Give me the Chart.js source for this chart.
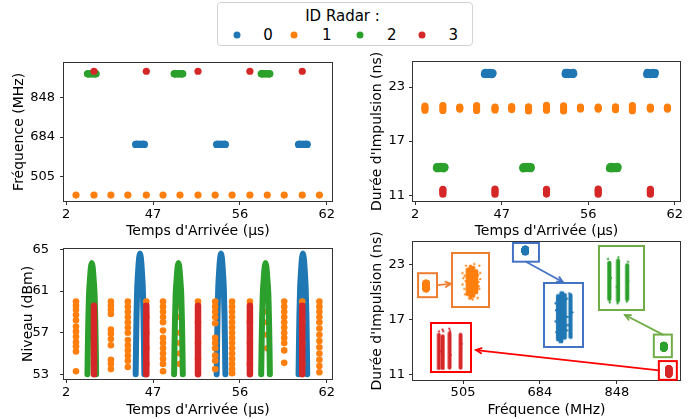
<!DOCTYPE html>
<html><head><meta charset="utf-8">
<script src="https://cdn.jsdelivr.net/npm/chart.js@4.4.1/dist/chart.umd.min.js"></script>
<style>
html,body{margin:0;padding:0;background:#fff;}
#wrap{position:relative;width:699px;height:419px;overflow:hidden;font-family:'DejaVu Sans',sans-serif;}
#wrap canvas{position:absolute;}
#legend{position:absolute;left:217px;top:2px;width:254px;height:42px;border:1px solid #d3d3d3;border-radius:4px;background:rgba(255,255,255,0.85);z-index:5;}
#legend .t,#legend .l{position:absolute;transform:translate(-50%,-50%);line-height:1;font-size:15px;color:#000;white-space:nowrap;}
#legend .d{position:absolute;width:7px;height:7px;border-radius:50%;transform:translate(-50%,-50%);}
</style></head>
<body><div id="wrap">
<canvas id="tl" width="340" height="190" style="left:0;top:50px"></canvas>
<canvas id="tr" width="339" height="190" style="left:360px;top:50px"></canvas>
<canvas id="bl" width="340" height="189" style="left:0;top:230px"></canvas>
<canvas id="br" width="339" height="189" style="left:360px;top:230px"></canvas>
<div id="legend"><div class="t" style="left:124.5px;top:12.7px">ID Radar :</div></div>
</div>
<script>
// ---------------- axis ticks ----------------
const TIME_TICKS = [0, 20, 40, 60];
const TIME_TICK_LABELS = ['2', '47', '56', '62'];
const FREQ_TICKS = [0, 1, 2];
const FREQ_TICK_LABELS = ['505', '684', '848'];
const DURATION_TICKS = [11, 17, 23];
const LEVEL_TICKS = [53, 57, 61, 65];

const RADAR_IDS = ['0', '1', '2', '3'];
const RADAR_COLORS = ['#1f77b4', '#ff7f0e', '#2ca02c', '#d62728'];

// ---------------- radar 0 (blue) : 3 bursts ----------------
const R0_FREQ = 0.81;
const R0_TIMES = [
  [16.0,16.1,16.2,16.35,16.55,16.8,17.0,17.2,17.45,17.65,17.8,17.9,18.0],
  [34.65,34.75,34.85,35.0,35.2,35.45,35.65,35.85,36.1,36.3,36.45,36.55,36.65],
  [53.5,53.6,53.7,53.85,54.05,54.3,54.5,54.7,54.95,55.15,55.3,55.4,55.5]
];
const R0_LEVELS = [
  [53.0,56.1,58.7,61.2,62.8,64.2,64.6,64.2,62.8,61.2,58.7,56.1,53.0],
  [53.0,56.1,58.7,61.2,62.8,64.2,64.6,64.2,62.8,61.2,58.7,56.1,53.0],
  [53.0,56.1,58.7,61.2,62.8,64.2,64.6,64.2,62.8,61.2,58.7,56.1,53.0]
];
const R0_DURATIONS = [
  [24.42,24.6,24.38,24.62,24.45,24.58,24.4,24.63,24.5,24.37,24.6,24.45,24.55],
  [24.45,24.62,24.4,24.55,24.63,24.38,24.52,24.6,24.42,24.58,24.4,24.62,24.48],
  [24.4,24.58,24.62,24.43,24.55,24.37,24.6,24.47,24.63,24.42,24.56,24.4,24.6]
];

// ---------------- radar 1 (orange) : 15 pulse groups ----------------
const R1_FREQ = -0.48;
const R1_TIMES = [2.26,6.4,10.3,14.2,18.45,22.3,26.2,30.35,34.3,38.2,42.3,46.3,50.2,54.35,58.3];
const R1_LEVELS = [
  [60.0,59.6,59.2,58.7,58.2,57.6,57.1,56.6,56.1,55.7,55.2,53.3],
  [60.0,59.2,58.0,56.5,55.0,54.0],
  [60.0,59.6,59.2,58.8,57.3,56.9,56.4,55.8,54.4,54.0,53.5],
  [60.0,59.5,59.0,58.5,58.0,57.5,57.0,56.3,55.8,55.3,54.8,54.3,53.7],
  [60.0,58.5,57.0,55.5,54.0],
  [60.0,59.5,59.0,58.5,58.0,57.2,56.5,56.0,55.5,55.0,54.5,54.0,53.3],
  [59.5,58.5,57.0,56.0,55.0,54.0],
  [60.0,58.0,56.0,54.5],
  [60.0,59.5,59.0,58.5,57.9,56.5,56.0,55.5,54.8,54.3,53.5],
  [60.0,59.5,59.0,58.5,58.0,57.5,57.0,56.5,56.0,55.5,55.0,54.5,54.0,53.5,53.1],
  [60.0,58.0,56.0,54.0],
  [59.0,58.0,56.8,55.5],
  [60.0,59.5,59.0,58.5,58.0,57.5,57.0,56.5,56.0,55.3,54.1],
  [60.0,58.0,56.0,54.0],
  [60.0,59.5,59.0,58.5,58.0,57.4,56.8,56.2,55.6,55.0,54.4,53.8,53.2]
];
const R1_DURATIONS = [
  [20.43,20.65,20.87],[20.4,20.7,20.95],[20.55,20.66,20.77],[20.4,20.68,20.95],[20.45,20.6,20.78],
  [20.5,20.66,20.83],[20.35,20.55,20.79],[20.42,20.7,20.97],[20.35,20.62,20.9],[20.56,20.68,20.78],
  [20.55,20.65,20.77],[20.48,20.62,20.8],[20.38,20.62,20.93],[20.55,20.66,20.77],[20.55,20.65,20.76]
];

// ---------------- radar 2 (green) : 3 bursts ----------------
const R2_FREQ = 2.61;
const R2_TIMES = [
  [4.9,5.0,5.1,5.25,5.45,5.7,5.9,6.1,6.35,6.55,6.7,6.8,6.9],
  [24.85,24.95,25.05,25.2,25.4,25.65,25.85,26.05,26.3,26.5,26.65,26.75,26.85],
  [44.9,45.0,45.1,45.25,45.45,45.7,45.9,46.1,46.35,46.55,46.7,46.8,46.9]
];
const R2_LEVELS = [
  [53.0,55.9,58.2,60.6,62.0,63.3,63.7,63.3,62.0,60.6,58.2,55.9,53.0],
  [53.0,55.9,58.2,60.6,62.0,63.3,63.7,63.3,62.0,60.6,58.2,55.9,53.0],
  [53.0,55.9,58.2,60.6,62.0,63.3,63.7,63.3,62.0,60.6,58.2,55.9,53.0]
];
const R2_DURATIONS = [
  [14.0,14.18,13.93,14.15,14.05,13.95,14.2,14.02,14.12,13.92,14.17,14.0,14.1],
  [14.05,13.92,14.18,14.0,14.15,13.95,14.1,14.2,13.97,14.12,13.93,14.16,14.03],
  [13.95,14.15,14.05,14.2,13.92,14.1,14.0,14.17,13.94,14.08,14.19,13.96,14.12]
];

// ---------------- radar 3 (red) : 5 pulse groups ----------------
const R3_FREQ = 2.675;
const R3_TIMES = [6.4,18.45,30.35,42.3,54.35];
const R3_LEVELS = [
  [53.0,54.7,56.3,58.0,59.6],[53.0,54.7,56.3,58.0,59.6],[53.0,54.7,56.3,58.0,59.6],
  [53.0,54.7,56.3,58.0,59.6],[53.0,54.7,56.3,58.0,59.6]
];
const R3_DURATIONS = [
  [11.1,11.3,11.5,11.65],[11.1,11.3,11.5,11.68],[11.12,11.3,11.5,11.65],
  [11.1,11.3,11.5,11.66],[11.1,11.32,11.5,11.65]
];

// ---------------- zoomed insets (frequency offset, duration) ----------------
const IN1_COL_FREQ = [-0.18, 0.0, 0.18, 0.36];
const IN1_COL_LOW  = [20.01, 19.84, 19.93, 20.1];
const IN1_COL_HIGH = [21.21, 21.34, 21.3, 21.13];
const IN1_DOT_FREQ = [-0.49,-0.44,-0.49,-0.38,0.54,0.59,0.49,0.54,0.44,0.13,-0.08,-0.33,-0.28,0.23,0.59,-0.3,0.47,-0.36,0.5];
const IN1_DOT_DUR  = [21.04,20.79,20.49,20.27,21.39,21.04,20.61,20.27,19.84,19.76,19.8,20.01,21.39,21.47,20.74,20.65,20.95,20.9,20.4];

const IN0_COL_FREQ = [-0.317, -0.122, 0.073, 0.4];
const IN0_COL_LOW  = [24.091, 24.061, 24.121, 24.136];
const IN0_COL_HIGH = [24.818, 24.864, 24.833, 24.833];
const IN0_DOT_FREQ = [-0.463,-0.463,-0.415,0.195,0.22,0.195,-0.22,-0.024,0.317,0.463,0.512,-0.44,0.24];
const IN0_DOT_DUR  = [24.697,24.394,24.212,24.773,24.47,24.242,24.045,24.879,24.864,24.121,24.545,24.58,24.33];

const IN2_COL_FREQ = [-0.596, -0.17, 0.277];
const IN2_COL_LOW  = [13.747, 13.721, 13.747];
const IN2_COL_HIGH = [14.353, 14.392, 14.312];
const IN2_DOT_FREQ = [-0.66,-0.574,-0.149,-0.191,0.319,0.255,-0.52,-0.24,0.34];
const IN2_DOT_DUR  = [14.418,13.691,14.448,13.676,14.373,13.706,14.1,13.95,14.05];

const IN3_COL_FREQ = [-0.681, -0.462, -0.081, 0.533];
const IN3_COL_LOW  = [10.84, 10.84, 10.854, 10.854];
const IN3_COL_HIGH = [11.741, 11.701, 11.781, 11.741];
const IN3_DOT_FREQ = [-0.476,-0.429,-0.095,-0.048,-0.667,-0.6,-0.02,0.6];
const IN3_DOT_DUR  = [11.882,11.835,11.906,11.847,11.835,11.3,11.2,11.5];

// ================= rendering =================
const FONT = "'DejaVu Sans', sans-serif";
const SPINE = '#333';

// legend
(function(){
  const lg = document.getElementById('legend');
  const dotX = [18.7, 76, 142, 203.7], txtX = [50, 108.7, 173.7, 235.3];
  RADAR_IDS.forEach((id, i) => {
    const d = document.createElement('div'); d.className = 'd';
    d.style.left = dotX[i] + 'px'; d.style.top = '32px'; d.style.background = RADAR_COLORS[i];
    lg.appendChild(d);
    const l = document.createElement('div'); l.className = 'l';
    l.style.left = txtX[i] + 'px'; l.style.top = '32px'; l.textContent = id;
    lg.appendChild(l);
  });
})();

function axis(o) {
  return {
    type: 'linear', position: o.position, min: o.min, max: o.max,
    afterBuildTicks: s => { s.ticks = o.ticks.map(v => ({value: v})); },
    afterFit: s => { if (o.position === 'left') s.width = o.size; else s.height = o.size; },
    ticks: {
      autoSkip: false, maxRotation: 0, minRotation: 0, padding: o.tickPad, color: '#000',
      font: {family: FONT, size: 13},
      callback: v => { const i = o.ticks.indexOf(v); return o.labels ? o.labels[i] : String(v); }
    },
    grid: {drawOnChartArea: false, drawTicks: true, tickLength: 4, tickColor: SPINE, tickWidth: 1},
    border: {display: false},
    title: {display: true, text: o.title, color: '#000', font: {family: FONT, size: 14},
            padding: {top: o.titlePad, bottom: o.titlePad}}
  };
}

const framePlugin = {
  id: 'frame',
  afterDraw(chart) {
    const {ctx, chartArea: a} = chart;
    ctx.save(); ctx.strokeStyle = SPINE; ctx.lineWidth = 1;
    ctx.strokeRect(Math.round(a.left) - 0.5, Math.round(a.top) - 0.5,
                   Math.round(a.right - a.left) + 1, Math.round(a.bottom - a.top) + 1);
    ctx.restore();
  }
};

function scatterSet(points, color, order, r) {
  return {data: points, backgroundColor: color, borderColor: color, borderWidth: 0,
          pointRadius: r || 3.6, pointHoverRadius: 0, order: order, showLine: false};
}
function lineSet(points, color, order, width, mono) {
  return {data: points, borderColor: color, backgroundColor: color, borderWidth: width, pointRadius: 0,
          showLine: true, order: order, borderCapStyle: 'round', borderJoinStyle: 'round',
          cubicInterpolationMode: mono ? 'monotone' : 'default', tension: mono ? 0.4 : 0};
}

function baseOptions(x, y, pad, extra) {
  return Object.assign({
    responsive: false, animation: false, events: [], devicePixelRatio: 1,
    layout: {padding: {top: pad.top, right: pad.right, left: 0, bottom: 0}},
    plugins: {legend: {display: false}, tooltip: {enabled: false}},
    scales: {x: x, y: y}
  }, extra || {});
}

const timeAxis = (size) => axis({position: 'bottom', min: -0.5, max: 61.2, ticks: TIME_TICKS,
  labels: TIME_TICK_LABELS, title: "Temps d'Arrivée (µs)", size: size, tickPad: 2, titlePad: 0});

const flat = a => [].concat(...a);

// ---- top-left : frequency vs time ----
new Chart(document.getElementById('tl'), {
  type: 'scatter',
  data: {datasets: [
    scatterSet(flat(R0_TIMES).map(t => ({x: t, y: R0_FREQ})), RADAR_COLORS[0], 3),
    scatterSet(R1_TIMES.map(t => ({x: t, y: R1_FREQ})), RADAR_COLORS[1], 2),
    scatterSet(flat(R2_TIMES).map(t => ({x: t, y: R2_FREQ})), RADAR_COLORS[2], 1),
    scatterSet(R3_TIMES.map(t => ({x: t, y: R3_FREQ})), RADAR_COLORS[3], 0)
  ]},
  options: baseOptions(timeAxis(39),
    axis({position: 'left', min: -0.63, max: 2.89, ticks: FREQ_TICKS, labels: FREQ_TICK_LABELS,
          title: 'Fréquence (MHz)', size: 64, tickPad: 5, titlePad: 10.6}),
    {top: 10, right: 8}),
  plugins: [framePlugin]
});

// ---- top-right : duration vs time ----
const trSets = [];
R0_TIMES.forEach((ts, b) => trSets.push(scatterSet(ts.map((t, i) => ({x: t, y: R0_DURATIONS[b][i]})), RADAR_COLORS[0], 3)));
trSets.push(scatterSet(flat(R1_TIMES.map((t, i) => R1_DURATIONS[i].map(d => ({x: t, y: d})))), RADAR_COLORS[1], 2));
R2_TIMES.forEach((ts, b) => trSets.push(scatterSet(ts.map((t, i) => ({x: t, y: R2_DURATIONS[b][i]})), RADAR_COLORS[2], 1)));
trSets.push(scatterSet(flat(R3_TIMES.map((t, i) => R3_DURATIONS[i].map(d => ({x: t, y: d})))), RADAR_COLORS[3], 0));
new Chart(document.getElementById('tr'), {
  type: 'scatter', data: {datasets: trSets},
  options: baseOptions(timeAxis(39),
    axis({position: 'left', min: 10.35, max: 25.8, ticks: DURATION_TICKS,
          title: "Durée d'Impulsion (ns)", size: 53, tickPad: 4, titlePad: 9.1}),
    {top: 10, right: 19}),
  plugins: [framePlugin]
});

// ---- bottom-left : level vs time ----
const blSets = [];
R0_TIMES.forEach((ts, b) => blSets.push(lineSet(ts.map((t, i) => ({x: t, y: R0_LEVELS[b][i]})), RADAR_COLORS[0], 3, 6, true)));
blSets.push(scatterSet(flat(R1_TIMES.map((t, i) => R1_LEVELS[i].map(l => ({x: t, y: l})))), RADAR_COLORS[1], 2, 3.3));
R2_TIMES.forEach((ts, b) => blSets.push(lineSet(ts.map((t, i) => ({x: t, y: R2_LEVELS[b][i]})), RADAR_COLORS[2], 1, 6, true)));
R3_TIMES.forEach((t, b) => blSets.push(lineSet(R3_LEVELS[b].map(l => ({x: t, y: l})), RADAR_COLORS[3], 0, 6.5, false)));
new Chart(document.getElementById('bl'), {
  type: 'scatter', data: {datasets: blSets},
  options: baseOptions(timeAxis(40),
    axis({position: 'left', min: 52.55, max: 65.06, ticks: LEVEL_TICKS,
          title: 'Niveau (dBm)', size: 64, tickPad: 11, titlePad: 19.6}),
    {top: 10, right: 8}),
  plugins: [framePlugin]
});

// ---- bottom-right : duration vs frequency, with zoom insets ----
const INSETS = [
  {color: '#ed7d31', win: {x: [-0.584, -0.338], y: [19.44, 22.04]}, from: 'right', to: 'left', frac: 0.53,
   box: {left: 451, top: 252, width: 43, height: 60}, yr: [19.5, 21.9], lw: 4.2,
   col: [IN1_COL_FREQ, IN1_COL_LOW, IN1_COL_HIGH], dot: [IN1_DOT_FREQ, IN1_DOT_DUR], c: RADAR_COLORS[1]},
  {color: '#4472c4', win: {x: [0.649, 0.987], y: [23.29, 25.32]}, from: 'bottom', to: 'top', frac: 0.44,
   box: {left: 543, top: 282, width: 45, height: 70}, yr: [24.0, 25.0], lw: 4.6,
   col: [IN0_COL_FREQ, IN0_COL_LOW, IN0_COL_HIGH], dot: [IN0_DOT_FREQ, IN0_DOT_DUR], c: RADAR_COLORS[0]},
  {color: '#70ad47', win: {x: [2.48, 2.714], y: [12.93, 15.38]}, from: 'top', to: 'bottom', frac: 0.53,
   box: {left: 598, top: 245, width: 51, height: 70}, yr: [13.6, 14.6], lw: 4.5,
   col: [IN2_COL_FREQ, IN2_COL_LOW, IN2_COL_HIGH], dot: [IN2_DOT_FREQ, IN2_DOT_DUR], c: RADAR_COLORS[2]},
  {color: '#ff0000', win: {x: [2.545, 2.779], y: [10.47, 12.5]}, from: 'left', to: 'right', frac: 0.51,
   box: {left: 430, top: 322, width: 46, height: 55}, yr: [10.8, 12.0], lw: 4.2,
   col: [IN3_COL_FREQ, IN3_COL_LOW, IN3_COL_HIGH], dot: [IN3_DOT_FREQ, IN3_DOT_DUR], c: RADAR_COLORS[3]}
];
const BR_LEFT = 360, BR_TOP = 230;

const zoomPlugin = {
  id: 'zoomBoxes',
  afterDraw(chart) {
    const {ctx, scales: {x, y}} = chart;
    ctx.save();
    INSETS.forEach(z => {
      const x0 = x.getPixelForValue(z.win.x[0]), x1 = x.getPixelForValue(z.win.x[1]);
      const y0 = y.getPixelForValue(z.win.y[1]), y1 = y.getPixelForValue(z.win.y[0]);
      ctx.strokeStyle = z.color; ctx.lineWidth = 2;
      ctx.strokeRect(x0, y0, x1 - x0, y1 - y0);
      let sx, sy;
      if (z.from === 'right') { sx = x1; sy = (y0 + y1) / 2; }
      else if (z.from === 'left') { sx = x0; sy = (y0 + y1) / 2; }
      else if (z.from === 'top') { sx = (x0 + x1) / 2; sy = y0; }
      else { sx = (x0 + x1) / 2; sy = y1; }
      const b = z.box, bl = b.left - BR_LEFT, bt = b.top - BR_TOP;
      let ex, ey;
      if (z.to === 'left') { ex = bl; ey = bt + z.frac * b.height; }
      else if (z.to === 'right') { ex = bl + b.width; ey = bt + z.frac * b.height; }
      else if (z.to === 'top') { ex = bl + z.frac * b.width; ey = bt; }
      else { ex = bl + z.frac * b.width; ey = bt + b.height; }
      ctx.lineWidth = 1.8; ctx.lineCap = 'round';
      ctx.beginPath(); ctx.moveTo(sx, sy); ctx.lineTo(ex, ey); ctx.stroke();
      const ang = Math.atan2(ey - sy, ex - sx), h = 6;
      ctx.beginPath();
      ctx.moveTo(ex - h * Math.cos(ang - 0.45), ey - h * Math.sin(ang - 0.45));
      ctx.lineTo(ex, ey);
      ctx.lineTo(ex - h * Math.cos(ang + 0.45), ey - h * Math.sin(ang + 0.45));
      ctx.stroke();
    });
    ctx.restore();
  }
};

new Chart(document.getElementById('br'), {
  type: 'scatter',
  data: {datasets: [
    scatterSet(flat(R0_DURATIONS).map(d => ({x: R0_FREQ, y: d})), RADAR_COLORS[0], 3),
    scatterSet(flat(R1_DURATIONS).map(d => ({x: R1_FREQ, y: d})), RADAR_COLORS[1], 2),
    scatterSet(flat(R2_DURATIONS).map(d => ({x: R2_FREQ, y: d})), RADAR_COLORS[2], 1),
    scatterSet(flat(R3_DURATIONS).map(d => ({x: R3_FREQ, y: d})), RADAR_COLORS[3], 0)
  ]},
  options: baseOptions(
    axis({position: 'bottom', min: -0.65, max: 2.82, ticks: FREQ_TICKS, labels: FREQ_TICK_LABELS,
          title: 'Fréquence (MHz)', size: 39, tickPad: 1, titlePad: 0}),
    axis({position: 'left', min: 10.45, max: 25.45, ticks: DURATION_TICKS,
          title: "Durée d'Impulsion (ns)", size: 53, tickPad: 4, titlePad: 9.1}),
    {top: 10, right: 19}),
  plugins: [framePlugin, zoomPlugin]
});

// inset charts
const wrap = document.getElementById('wrap');
INSETS.forEach(z => {
  const cv = document.createElement('canvas');
  const w = z.box.width - 4, h = z.box.height - 4;
  cv.width = w; cv.height = h;
  cv.style.left = z.box.left + 'px'; cv.style.top = z.box.top + 'px';
  cv.style.width = w + 'px'; cv.style.height = h + 'px';
  cv.style.border = '2px solid ' + z.color; cv.style.background = '#fff'; cv.style.zIndex = 3;
  wrap.appendChild(cv);
  const sets = z.col[0].map((f, i) => lineSet([{x: f, y: z.col[1][i]}, {x: f, y: z.col[2][i]}], z.c, 1, z.lw, false));
  sets.push(scatterSet(z.dot[0].map((f, i) => ({x: f, y: z.dot[1][i]})), z.c, 0, 1.2));
  new Chart(cv, {
    type: 'scatter', data: {datasets: sets},
    options: {
      responsive: false, animation: false, events: [], devicePixelRatio: 1,
      layout: {padding: 0},
      plugins: {legend: {display: false}, tooltip: {enabled: false}},
      scales: {x: {display: false, min: -1, max: 1}, y: {display: false, min: z.yr[0], max: z.yr[1]}}
    }
  });
});
</script>
</body></html>
